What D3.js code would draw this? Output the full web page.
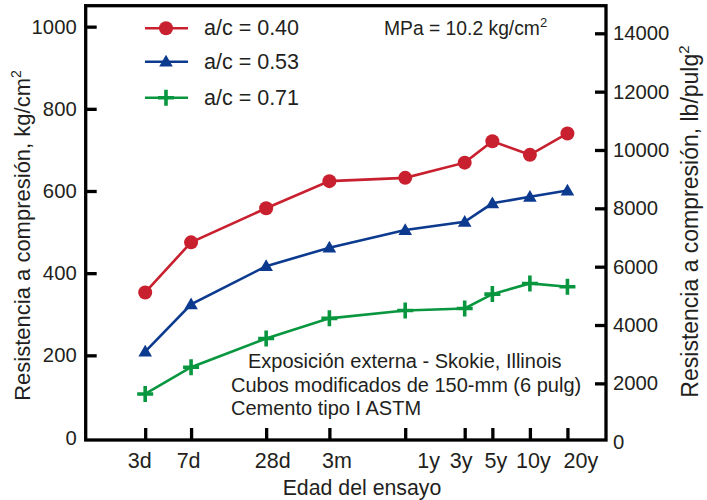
<!DOCTYPE html>
<html>
<head>
<meta charset="utf-8">
<script src="https://cdn.jsdelivr.net/npm/d3@7"></script>
<style>
  body { margin: 0; background: #fff; }
  svg { display: block; font-family: "Liberation Sans", Arial, sans-serif; }
  text { fill: #231f20; }
</style>
</head>
<body>
<div id="chart"></div>
<script>
// ages in days, with their axis labels
var ages = [3, 7, 28, 90, 365, 1095, 1825, 3650, 7300];
var ageLabels = ["3d", "7d", "28d", "3m", "1y", "3y", "5y", "10y", "20y"];

// compressive strength, kg/cm2
var wc040 = [353, 475, 558, 624, 632, 669, 721, 688, 740];
var wc053 = [209, 324, 417, 462, 505, 525, 570, 586, 601];
var wc071 = [106, 171, 241, 290, 309, 314, 349, 375, 367];

var seriesNames = ["a/c = 0.40", "a/c = 0.53", "a/c = 0.71"];
var leftTicks = [0, 200, 400, 600, 800, 1000];
var rightTicks = [0, 2000, 4000, 6000, 8000, 10000, 12000, 14000];

var notes = ["Exposición externa - Skokie, Illinois",
             "Cubos modificados de 150-mm (6 pulg)",
             "Cemento tipo I ASTM"];

var width = 707, height = 500;
var plotLeft = 85.7, plotRight = 606, plotTop = 5.7, plotBottom = 440;

var svg = d3.select("#chart").append("svg")
  .attr("width", width)
  .attr("height", height);

var x = d3.scaleLog().domain([1, 14880]).range([plotLeft, plotRight]);
var y = d3.scaleLinear().domain([0, 1051]).range([437.5, plotTop]);
var yR = d3.scaleLinear().domain([0, 14000]).range([441.7, 33.3]);

var series = [
  { name: seriesNames[0], values: wc040, color: "#c8202e", mark: "circle" },
  { name: seriesNames[1], values: wc053, color: "#0b3a8f", mark: "triangle" },
  { name: seriesNames[2], values: wc071, color: "#08963f", mark: "plus" }
];

// axes
var gl = svg.append("g")
  .attr("transform", "translate(" + plotLeft + ",0)")
  .call(d3.axisLeft(y).tickValues(leftTicks).tickSize(-11).tickPadding(9).tickFormat(d3.format("d")));

var gr = svg.append("g")
  .attr("transform", "translate(" + plotRight + ",0)")
  .call(d3.axisRight(yR).tickValues(rightTicks).tickSize(-11).tickPadding(7).tickFormat(d3.format("d")));

// label nudges to sit where the original puts them
var labelShift = [-6, -3, 6, 7, 23, -4, 3, 3, 13];
var gb = svg.append("g")
  .attr("transform", "translate(0," + plotBottom + ")")
  .call(d3.axisBottom(x).tickValues(ages).tickSize(-12).tickPadding(13)
    .tickFormat(function(d, i) { return ageLabels[i]; }));

[gl, gr, gb].forEach(function(g) {
  g.select(".domain").remove();
  g.selectAll(".tick line").attr("stroke", "#000").attr("stroke-width", 3.3);
  g.selectAll(".tick text").style("font-size", "20.3px").attr("fill", "#231f20");
});
gb.selectAll(".tick text")
  .style("font-size", "21.5px")
  .attr("dx", function(d, i) { return labelShift[i]; });
gl.selectAll(".tick").filter(function(d) { return d === 0; }).select("line").remove();
gr.selectAll(".tick").filter(function(d) { return d === 0; }).select("line").remove();

// frame
svg.append("rect")
  .attr("x", plotLeft).attr("y", plotTop)
  .attr("width", plotRight - plotLeft).attr("height", plotBottom - plotTop)
  .attr("fill", "none")
  .attr("stroke", "#000")
  .attr("stroke-width", 3.3);

// lines
var line = d3.line()
  .x(function(d, i) { return x(ages[i]); })
  .y(function(d) { return y(d); });

function drawMark(g, s, cx, cy) {
  if (s.mark === "circle") {
    g.append("circle").attr("cx", cx).attr("cy", cy).attr("r", 7).attr("fill", s.color);
  } else if (s.mark === "triangle") {
    g.append("path")
      .attr("d", d3.symbol().type(d3.symbolTriangle).size(80)())
      .attr("transform", "translate(" + cx + "," + (cy + 1) + ")")
      .attr("fill", s.color);
  } else {
    g.append("path")
      .attr("d", "M-8,0H8M0,-8V8")
      .attr("transform", "translate(" + cx + "," + cy + ")")
      .attr("stroke", s.color)
      .attr("stroke-width", 3.6);
  }
}

series.forEach(function(s) {
  var g = svg.append("g");
  g.append("path")
    .datum(s.values)
    .attr("d", line)
    .attr("fill", "none")
    .attr("stroke", s.color)
    .attr("stroke-width", 2.6);
  s.values.forEach(function(v, i) { drawMark(g, s, x(ages[i]), y(v)); });
});

// legend
var legendY = [28.3, 61.7, 97.7];
series.forEach(function(s, i) {
  var g = svg.append("g");
  g.append("line")
    .attr("x1", 145).attr("x2", 188)
    .attr("y1", legendY[i]).attr("y2", legendY[i])
    .attr("stroke", s.color).attr("stroke-width", 2.6);
  drawMark(g, s, 166, legendY[i]);
  g.append("text")
    .attr("x", 204).attr("y", legendY[i] + 7)
    .style("font-size", "21.5px")
    .text(s.name);
});

// unit note
var mpa = svg.append("text")
  .attr("x", 384).attr("y", 35)
  .style("font-size", "19.3px")
  .text("MPa = 10.2 kg/cm");
mpa.append("tspan").attr("dy", -8).style("font-size", "13px").text("2");

// test notes
var noteX = [248, 231, 231];
var noteY = [368, 391.5, 415];
notes.forEach(function(n, i) {
  svg.append("text")
    .attr("x", noteX[i]).attr("y", noteY[i])
    .style("font-size", "20px")
    .text(n);
});

// axis titles
svg.append("text")
  .attr("x", 362).attr("y", 495)
  .attr("text-anchor", "middle")
  .style("font-size", "21.3px")
  .text("Edad del ensayo");

var tl = svg.append("text")
  .attr("transform", "translate(30,235.5) rotate(-90)")
  .attr("text-anchor", "middle")
  .style("font-size", "22px")
  .text("Resistencia a compresión, kg/cm");
tl.append("tspan").attr("dy", -9).style("font-size", "14px").text("2");

var tr = svg.append("text")
  .attr("transform", "translate(698,221.5) rotate(-90)")
  .attr("text-anchor", "middle")
  .style("font-size", "23px")
  .text("Resistencia a compresión, lb/pulg");
tr.append("tspan").attr("dy", -9).style("font-size", "15px").text("2");
</script>
</body>
</html>
